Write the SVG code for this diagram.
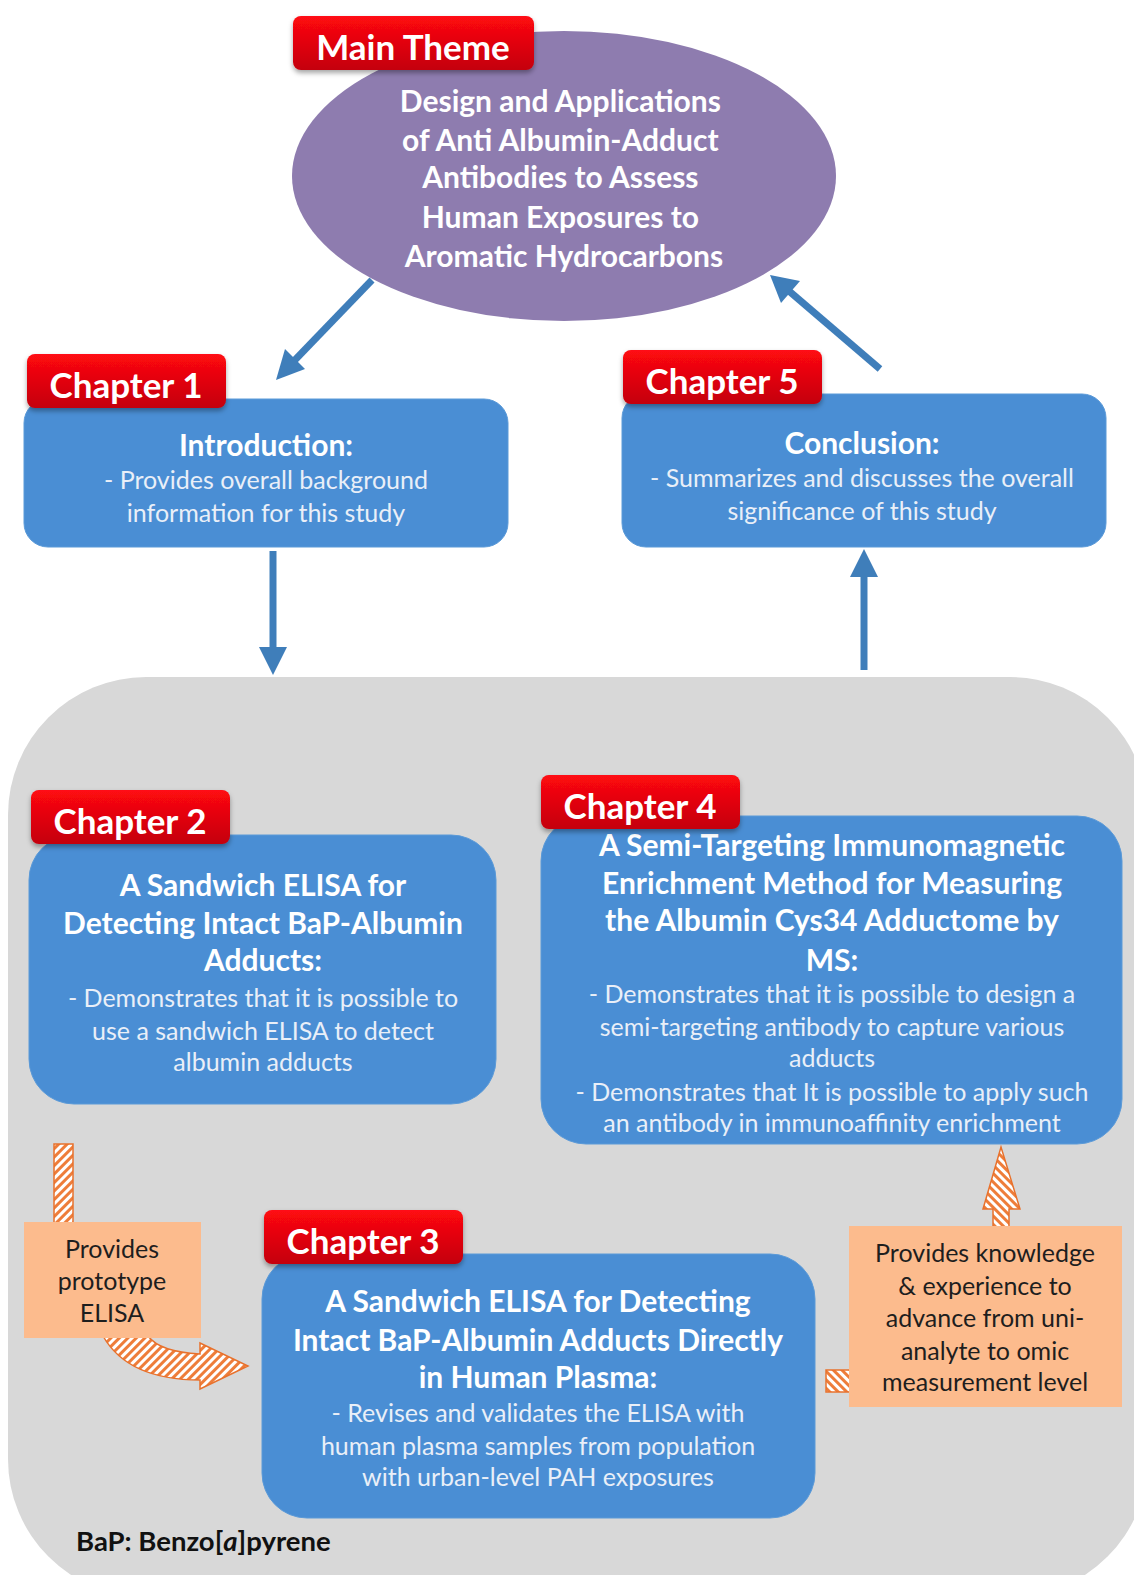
<svg xmlns="http://www.w3.org/2000/svg" width="1134" height="1575" viewBox="0 0 1134 1575">
  <style>
    .lbl { fill: url(#redGrad); filter: url(#shadow); }
    .lblText { font-family: Lato, "Open Sans", "Liberation Sans", sans-serif; font-weight: 700; font-size: 35px; fill: #ffffff; text-anchor: middle; }
    .box { fill: #4a8ed4; stroke: #5b9ad8; stroke-width: 1; }
    .title { font-family: Lato, "Open Sans", "Liberation Sans", sans-serif; font-weight: 700; font-size: 30px; fill: #ffffff; text-anchor: middle; }
    .body { font-family: Lato, "Open Sans", "Liberation Sans", sans-serif; font-size: 25px; fill: #e9eff8; text-anchor: middle; }
    .note { fill: #fcbb8d; }
    .noteText { font-family: Lato, "Open Sans", "Liberation Sans", sans-serif; font-size: 25px; fill: #1e1e1e; text-anchor: middle; }
    .conn { stroke: #3f7eba; stroke-width: 7; fill: none; }
    .head { fill: #3f7eba; }
    .hatchA { fill: url(#hatchBack); stroke: #e8712c; stroke-width: 1.5; }
    .hatchB { fill: url(#hatchFwd); stroke: #e8712c; stroke-width: 1.5; }
  </style>
  <defs>
    <linearGradient id="redGrad" x1="0" y1="0" x2="0" y2="1">
      <stop offset="0" stop-color="#ff0812"/>
      <stop offset="1" stop-color="#c4000b"/>
    </linearGradient>
    <filter id="shadow" x="-10%" y="-10%" width="120%" height="140%">
      <feDropShadow dx="0" dy="3" stdDeviation="2.5" flood-color="#000" flood-opacity="0.35"/>
    </filter>
    <pattern id="hatchBack" width="6" height="6" patternUnits="userSpaceOnUse" patternTransform="rotate(45)">
      <rect width="6" height="6" fill="#ee7d3a"/>
      <rect x="0" width="3" height="6" fill="#ffffff"/>
    </pattern>
    <pattern id="hatchFwd" width="6" height="6" patternUnits="userSpaceOnUse" patternTransform="rotate(-45)">
      <rect width="6" height="6" fill="#ee7d3a"/>
      <rect x="0" width="3" height="6" fill="#ffffff"/>
    </pattern>
  </defs>

  <!-- background panel holding chapters 2-4 -->
  <rect id="panel" x="8" y="677" width="1140" height="920" rx="138" ry="138" fill="#d8d8d8"/>

  <!-- connectors -->
  <g id="connectors">
    <!-- theme -> chapter 1 -->
    <line class="conn" x1="372" y1="280" x2="293" y2="362"/>
    <polygon class="head" points="276,380 285,349 305,369"/>
    <!-- chapter 5 -> theme -->
    <line class="conn" x1="880" y1="369" x2="789" y2="291"/>
    <polygon class="head" points="770,275 800,281 781,303"/>
    <!-- chapter 1 -> panel -->
    <line class="conn" x1="273" y1="551" x2="273" y2="650"/>
    <polygon class="head" points="273,675 259,647 287,647"/>
    <!-- panel -> chapter 5 -->
    <line class="conn" x1="864" y1="670" x2="864" y2="575"/>
    <polygon class="head" points="864,549 850,577 878,577"/>
    <!-- chapter 2 -> chapter 3 (hatched bent arrow) -->
    <rect class="hatchA" x="54" y="1144" width="19" height="84"/>
    <path class="hatchA" d="M103,1336 Q128,1380 200,1380 L200,1389 L248,1366 L200,1343 L200,1354 Q160,1352 148,1336 Z"/>
    <!-- chapter 3 -> chapter 4 (hatched up arrow) -->
    <rect class="hatchB" x="826" y="1370" width="24" height="22"/>
    <path class="hatchB" d="M993,1230 L993,1209 L983,1209 L1001,1147 L1020,1209 L1009,1209 L1009,1230 Z"/>
  </g>

  <!-- main theme -->
  <g id="main-theme">
    <ellipse cx="564" cy="176" rx="272" ry="145" fill="#8e7caf"/>
    <text class="title" x="564" font-size="31">
      <tspan x="564" y="112">Design and Applications</tspan>
      <tspan x="564" y="151">of Anti Albumin-Adduct</tspan>
      <tspan x="564" y="188">Antibodies to Assess</tspan>
      <tspan x="564" y="228">Human Exposures to</tspan>
      <tspan x="564" y="267">Aromatic Hydrocarbons</tspan>
    </text>
    <rect class="lbl" x="293" y="16" width="241" height="54" rx="8"/>
    <text class="lblText" x="413" y="60">Main Theme</text>
  </g>

  <!-- chapter 1 -->
  <g id="chapter-1">
    <rect class="box" x="24" y="399" width="484" height="148" rx="24"/>
    <text class="title" x="266" y="456">Introduction:</text>
    <text class="body" x="266" y="489">- Provides overall background</text>
    <text class="body" x="266" y="522">information for this study</text>
    <rect class="lbl" x="27" y="354" width="199" height="54" rx="8"/>
    <text class="lblText" x="126" y="398">Chapter 1</text>
  </g>

  <!-- chapter 5 -->
  <g id="chapter-5">
    <rect class="box" x="622" y="394" width="484" height="153" rx="24"/>
    <text class="title" x="862" y="454">Conclusion:</text>
    <text class="body" x="862" y="487">- Summarizes and discusses the overall</text>
    <text class="body" x="862" y="520">significance of this study</text>
    <rect class="lbl" x="623" y="350" width="199" height="54" rx="8"/>
    <text class="lblText" x="722" y="394">Chapter 5</text>
  </g>

  <!-- chapter 2 -->
  <g id="chapter-2">
    <rect class="box" x="29" y="835" width="467" height="269" rx="45"/>
    <text class="title" x="263" y="896">A Sandwich ELISA for</text>
    <text class="title" x="263" y="934">Detecting Intact BaP-Albumin</text>
    <text class="title" x="263" y="971">Adducts:</text>
    <text class="body" x="263" y="1007">- Demonstrates that it is possible to</text>
    <text class="body" x="263" y="1040">use a sandwich ELISA to detect</text>
    <text class="body" x="263" y="1071">albumin adducts</text>
    <rect class="lbl" x="31" y="790" width="199" height="54" rx="8"/>
    <text class="lblText" x="130" y="834">Chapter 2</text>
  </g>

  <!-- chapter 4 -->
  <g id="chapter-4">
    <rect class="box" x="541" y="816" width="581" height="328" rx="45"/>
    <text class="title" x="832" y="856">A Semi-Targeting Immunomagnetic</text>
    <text class="title" x="832" y="894">Enrichment Method for Measuring</text>
    <text class="title" x="832" y="931">the Albumin Cys34 Adductome by</text>
    <text class="title" x="832" y="971">MS:</text>
    <text class="body" x="832" y="1003">- Demonstrates that it is possible to design a</text>
    <text class="body" x="832" y="1036">semi-targeting antibody to capture various</text>
    <text class="body" x="832" y="1067">adducts</text>
    <text class="body" x="832" y="1101">- Demonstrates that It is possible to apply such</text>
    <text class="body" x="832" y="1132">an antibody in immunoaffinity enrichment</text>
    <rect class="lbl" x="541" y="775" width="199" height="54" rx="8"/>
    <text class="lblText" x="640" y="819">Chapter 4</text>
  </g>

  <!-- chapter 3 -->
  <g id="chapter-3">
    <rect class="box" x="262" y="1254" width="553" height="264" rx="45"/>
    <text class="title" x="538" y="1312">A Sandwich ELISA for Detecting</text>
    <text class="title" x="538" y="1351">Intact BaP-Albumin Adducts Directly</text>
    <text class="title" x="538" y="1388">in Human Plasma:</text>
    <text class="body" x="538" y="1422">- Revises and validates the ELISA with</text>
    <text class="body" x="538" y="1455">human plasma samples from population</text>
    <text class="body" x="538" y="1486">with urban-level PAH exposures</text>
    <rect class="lbl" x="264" y="1210" width="199" height="54" rx="8"/>
    <text class="lblText" x="363" y="1254">Chapter 3</text>
  </g>

  <!-- link notes -->
  <g id="note-prototype">
    <rect class="note" x="24" y="1222" width="177" height="116"/>
    <text class="noteText" x="112" y="1258">Provides</text>
    <text class="noteText" x="112" y="1290">prototype</text>
    <text class="noteText" x="112" y="1322">ELISA</text>
  </g>
  <g id="note-knowledge">
    <rect class="note" x="849" y="1226" width="273" height="181"/>
    <text class="noteText" x="985" y="1262">Provides knowledge</text>
    <text class="noteText" x="985" y="1295">&amp; experience to</text>
    <text class="noteText" x="985" y="1327">advance from uni-</text>
    <text class="noteText" x="985" y="1360">analyte to omic</text>
    <text class="noteText" x="985" y="1391">measurement level</text>
  </g>

  <!-- abbreviation footnote -->
  <text id="footnote" x="76" y="1551" font-family="Lato, 'Open Sans', 'Liberation Sans', sans-serif" font-weight="700" font-size="27.5" fill="#111">BaP: Benzo[<tspan font-style="italic">a</tspan>]pyrene</text>
</svg>
